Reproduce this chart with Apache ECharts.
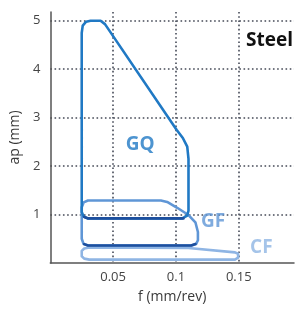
<!DOCTYPE html>
<html>
<head>
<meta charset="utf-8">
<script src="https://cdn.jsdelivr.net/npm/echarts@6/dist/echarts.min.js"></script>
<style>
  html, body { margin: 0; padding: 0; background: #fff; }
  #chart { width: 297px; height: 309px; }
</style>
</head>
<body>
<div id="chart"></div>
<script>
// outlines of the application areas, feed f (mm/rev) vs depth ap (mm)
const gqF  = [0.025, 0.025, 0.0258, 0.0285, 0.032, 0.040, 0.0435, 0.1005, 0.1055, 0.109, 0.110, 0.110, 0.109, 0.105, 0.030, 0.0265, 0.025];
const gqAp = [1.05, 4.75, 4.90, 4.98, 5.00, 5.00, 4.93, 2.75, 2.58, 2.40, 2.15, 1.08, 0.98, 0.92, 0.92, 0.96, 1.05];

const gfF  = [0.025, 0.025, 0.0265, 0.030, 0.088, 0.093, 0.101, 0.110, 0.1155, 0.1175, 0.1175, 0.116, 0.1125, 0.030, 0.0265, 0.025];
const gfAp = [0.50, 1.15, 1.25, 1.29, 1.29, 1.26, 1.14, 0.99, 0.84, 0.64, 0.47, 0.39, 0.36, 0.36, 0.39, 0.50];

const cfF  = [0.025, 0.025, 0.027, 0.031, 0.110, 0.147, 0.1495, 0.1495, 0.147, 0.031, 0.027, 0.025];
const cfAp = [0.14, 0.25, 0.30, 0.32, 0.31, 0.22, 0.19, 0.11, 0.07, 0.07, 0.09, 0.14];

// darker bottom edges
const gqBaseF  = [0.027, 0.030, 0.106];
const gqBaseAp = [0.95, 0.92, 0.92];
const gfBaseF  = [0.027, 0.030, 0.112, 0.1155];
const gfBaseAp = [0.39, 0.36, 0.36, 0.39];

const xTicks = [0.05, 0.1, 0.15];
const yTicks = [1, 2, 3, 4, 5];

const areaNames = ['GQ', 'GF', 'CF'];
const areaLabelF  = [0.0715, 0.1295, 0.168];
const areaLabelAp = [2.44, 0.85, 0.32];

const colors = { GQ: '#2079c4', GF: '#5f96d6', CF: '#8fb5e4', base: '#1d4f9e' };

const zip = (a, b) => a.map((v, i) => [v, b[i]]);

const chart = echarts.init(document.getElementById('chart'));

const outline = (name, f, ap, color, z) => ({
  name: name,
  type: 'line',
  data: zip(f, ap),
  symbol: 'none',
  smooth: false,
  z: z,
  lineStyle: { color: color, width: 2.6, join: 'round', cap: 'round' },
  silent: true,
  animation: false
});

const gridLine = { show: true, showMinLine: false, showMaxLine: false,
  lineStyle: { color: '#454a57', width: 1.6, type: [1.6, 2.6] } };

const option = {
  backgroundColor: '#fff',
  animation: false,
  textStyle: { fontFamily: 'Open Sans' },
  title: {
    text: 'Steel',
    right: -1,
    top: 26,
    textStyle: { fontFamily: 'Open Sans', fontSize: 19, fontWeight: 'bold', color: '#111' }
  },
  grid: { left: 50, right: 0, top: 12, bottom: 44 },
  xAxis: {
    type: 'value',
    min: 0,
    max: 0.194,
    interval: 0.05,
    name: 'f (mm/rev)',
    nameLocation: 'middle',
    nameGap: 27,
    nameTextStyle: { fontSize: 14, color: '#3a3a3a' },
    axisLine: { show: true, lineStyle: { color: '#555', width: 1.5 } },
    axisTick: { show: false },
    splitLine: gridLine,
    axisLabel: {
      fontSize: 13, color: '#444', margin: 8,
      formatter: v => xTicks.some(t => Math.abs(t - v) < 1e-6) ? String(v) : ''
    }
  },
  yAxis: {
    type: 'value',
    min: 0,
    max: 5.18,
    interval: 1,
    name: 'ap (mm)',
    nameLocation: 'middle',
    nameGap: 28,
    nameTextStyle: { fontSize: 14, color: '#3a3a3a' },
    axisLine: { show: true, lineStyle: { color: '#555', width: 1.5 } },
    axisTick: { show: false },
    splitLine: gridLine,
    axisLabel: {
      fontSize: 13, color: '#444', margin: 10,
      formatter: v => yTicks.indexOf(v) >= 0 ? String(v) : ''
    }
  },
  series: [
    outline('CF', cfF, cfAp, colors.CF, 3),
    outline('GF', gfF, gfAp, colors.GF, 4),
    outline('GQ', gqF, gqAp, colors.GQ, 5),
    outline('GQ base', gqBaseF, gqBaseAp, colors.base, 6),
    outline('GF base', gfBaseF, gfBaseAp, colors.base, 6),
    {
      type: 'scatter',
      symbolSize: 0,
      silent: true,
      z: 10,
      data: areaNames.map((n, i) => ({
        value: [areaLabelF[i], areaLabelAp[i]],
        label: {
          show: true,
          formatter: n,
          position: 'inside',
          fontSize: 19,
          fontWeight: 'bold',
          fontFamily: 'Open Sans',
          color: colors[n]
        }
      }))
    }
  ]
};

chart.setOption(option);
</script>
</body>
</html>
